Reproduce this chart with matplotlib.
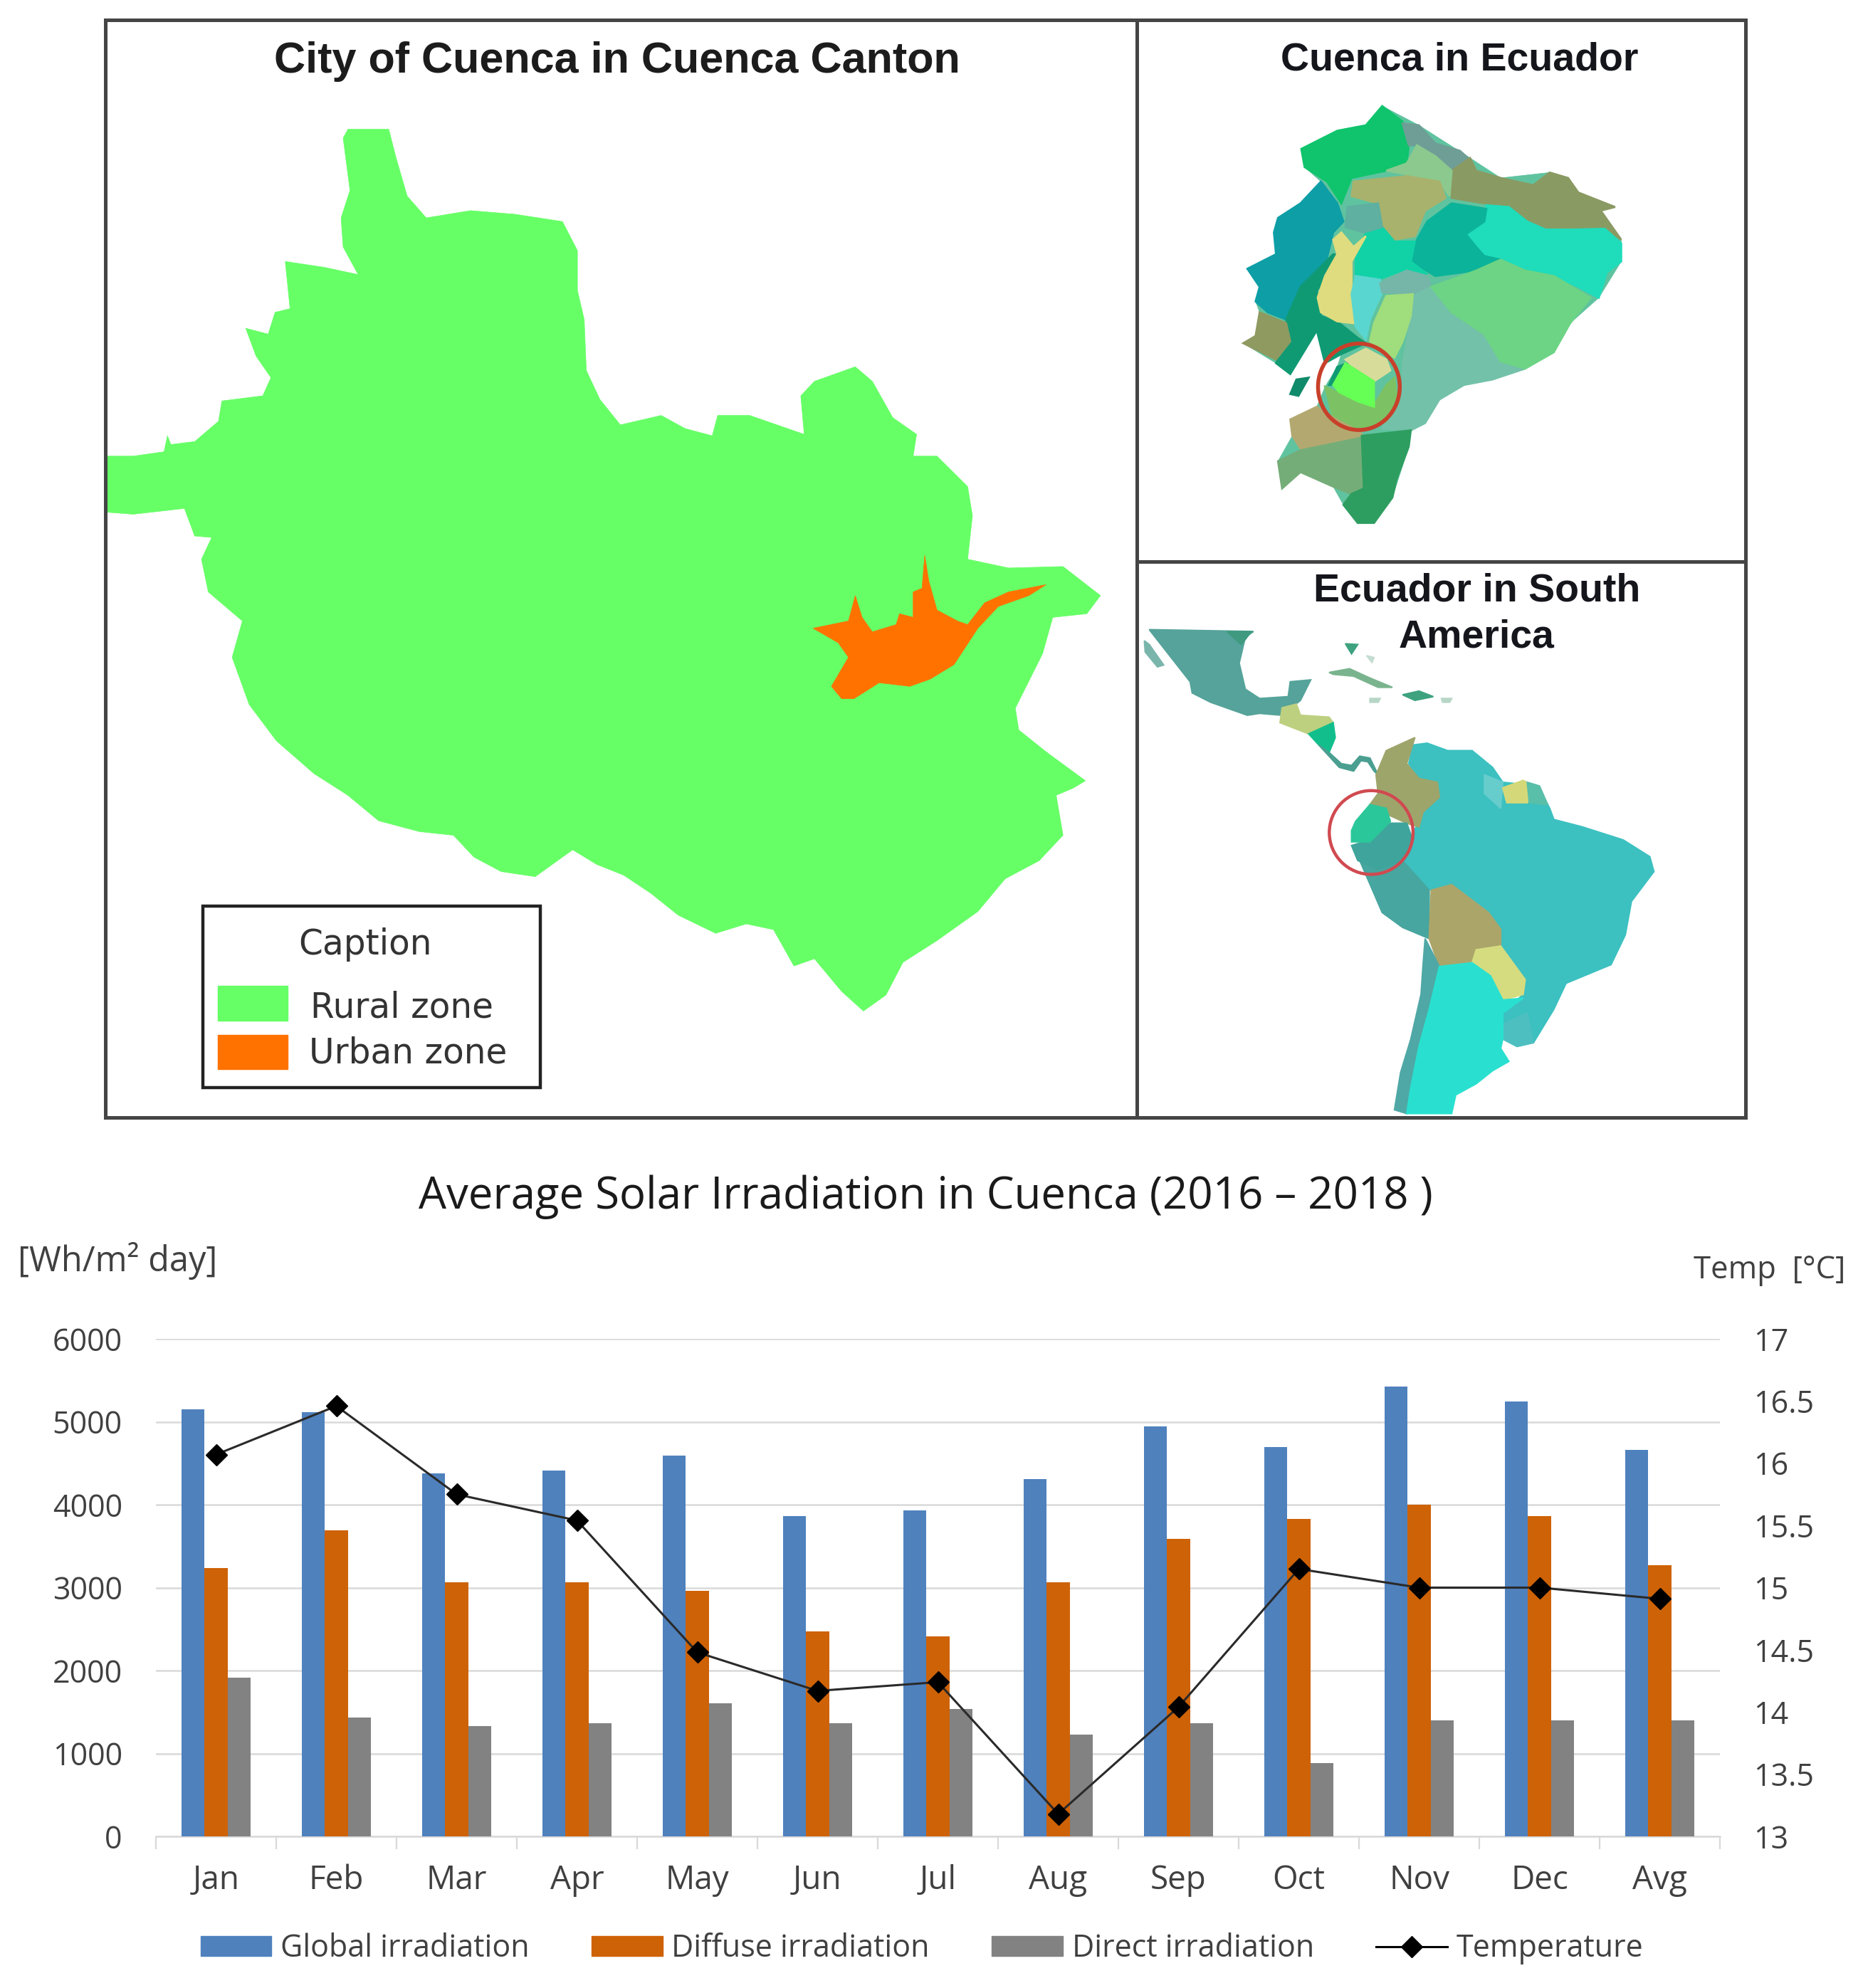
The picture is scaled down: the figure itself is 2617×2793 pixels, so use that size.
import numpy as np
import matplotlib
matplotlib.use('Agg')
import matplotlib.pyplot as plt
from matplotlib.patches import Polygon, Ellipse, Rectangle, Patch
from matplotlib.lines import Line2D

# chart data
months = ['Jan', 'Feb', 'Mar', 'Apr', 'May', 'Jun', 'Jul', 'Aug', 'Sep', 'Oct', 'Nov', 'Dec', 'Avg']
global_irr = [5146, 5113, 4381, 4413, 4593, 3861, 3931, 4310, 4940, 4696, 5422, 5248, 4664]
diffuse_irr = [3238, 3694, 3064, 3064, 2961, 2473, 2409, 3064, 3585, 3829, 3996, 3861, 3270]
direct_irr = [1914, 1433, 1330, 1362, 1606, 1362, 1535, 1227, 1362, 880, 1400, 1400, 1400]
temperature = [16.07, 16.46, 15.75, 15.54, 14.48, 14.17, 14.24, 13.18, 14.04, 15.15, 15.0, 15.0, 14.91]
irr_ticks = [0, 1000, 2000, 3000, 4000, 5000, 6000]
temp_ticks = [13, 13.5, 14, 14.5, 15, 15.5, 16, 16.5, 17]
temp_labels = ['13', '13.5', '14', '14.5', '15', '15.5', '16', '16.5', '17']

# canton map outlines
rural = [(18,628),(60,628),(105,622),(110,600),(115,612),(150,608),(185,580),(190,552),(250,545),(262,520),
         (240,490),(225,452),(258,460),(268,430),(290,425),(283,360),(340,368),(390,378),(368,340),(365,300),
         (378,262),(368,190),(375,178),(435,178),(445,215),(462,270),(490,300),(555,290),(620,295),(690,305),
         (712,345),(712,400),(722,440),(725,510),(745,550),(775,585),(835,572),(870,590),(910,600),(918,572),
         (965,572),(1045,598),(1040,545),(1060,525),(1120,505),(1145,525),(1175,575),(1210,598),(1205,628),
         (1240,628),(1285,670),(1292,710),(1285,770),(1345,782),(1425,780),(1480,820),(1460,845),(1410,850),
         (1395,900),(1355,975),(1360,1005),(1400,1035),(1458,1075),(1440,1085),(1415,1095),(1425,1150),
         (1390,1185),(1340,1210),(1300,1255),(1240,1295),(1190,1325),(1165,1370),(1132,1392),(1100,1365),
         (1060,1320),(1030,1330),(1000,1280),(960,1272),(915,1285),(860,1260),(820,1230),(780,1205),(740,1190),
         (705,1170),(650,1207),(600,1200),(560,1180),(530,1150),(480,1145),(420,1130),(375,1095),(325,1065),
         (270,1020),(230,970),(205,905),(220,855),(170,815),(160,770),(175,740),(150,738),(135,700),(60,708),(18,705)]
urban = [(1058,865),(1110,855),(1120,820),(1130,850),(1145,870),(1180,860),(1185,845),(1205,850),(1205,815),
         (1218,810),(1222,765),(1228,800),(1240,840),(1270,855),(1285,860),(1310,830),(1345,815),(1400,805),
         (1375,820),(1330,835),(1300,865),(1265,915),(1230,935),(1200,945),(1155,940),(1118,962),(1100,962),
         (1085,945),(1110,905),(1095,885)]

# ecuador provinces
ecuador_outline = [(630,292),(720,345),(845,435),(920,490),(1040,475),(1110,530),(1215,660),(1215,720),(1160,820),(1090,890),
                   (1050,970),(980,1015),(830,1060),(770,1100),(735,1165),(700,1185),(695,1230),(655,1370),(610,1440),
                   (570,1440),(535,1390),(510,1340),(430,1300),(385,1345),(375,1270),(410,1200),(405,1155),(470,1120),
                   (490,1065),(520,1010),(530,975),(490,1000),(470,910),(405,1030),(370,1000),(290,945),(320,925),
                   (330,860),(320,830),(330,790),(300,740),(370,700),(365,640),(375,600),(430,560),(480,500),(440,460),
                   (432,410),(520,360),(590,345)]
esmeraldas = [(630,292),(680,335),(695,400),(690,450),(640,470),(555,490),(530,560),(495,500),(440,460),(432,410),(520,360),(590,345)]
carchi = [(680,340),(720,345),(760,395),(820,415),(845,440),(800,470),(760,430),(715,400),(695,400)]
sucumbios = [(800,470),(845,435),(860,470),(920,490),(1000,510),(1040,475),(1085,490),(1110,530),(1200,570),(1165,580),
             (1215,660),(1175,630),(1100,630),(1030,630),(985,605),(940,570),(880,560),(800,545)]
imbabura = [(715,400),(760,430),(800,470),(795,540),(770,500),(690,480),(640,470),(690,450)]
pichincha = [(560,500),(690,485),(770,500),(785,545),(735,580),(710,650),(660,660),(630,620),(620,560),(555,540)]
napo = [(800,560),(885,575),(880,610),(835,645),(860,680),(880,705),(920,715),(860,745),(760,760),(700,720),(710,670),(740,610)]
orellana = [(885,565),(940,570),(985,610),(1030,632),(1100,632),(1175,630),(1215,670),(1215,720),(1180,750),(1160,820),
            (1110,790),(1050,760),(980,740),(920,715),(880,700),(860,680),(835,645),(880,610)]
cotopaxi = [(590,640),(630,625),(660,665),(710,665),(700,720),(740,755),(690,740),(620,770),(565,755),(565,710)]
santo_domingo = [(545,570),(620,560),(630,625),(585,640),(540,625)]
manabi = [(480,500),(520,560),(535,610),(510,640),(495,710),(430,790),(395,880),(350,860),(320,830),(330,790),(300,740),
          (370,700),(365,640),(375,600),(430,560)]
guayas = [(510,700),(530,705),(470,800),(480,870),(520,885),(570,930),(590,945),(530,975),(490,1000),(470,910),(405,1030),
          (370,1000),(400,930),(395,880),(430,790)]
santa_elena = [(330,860),(395,890),(405,940),(370,990),(290,945),(320,925)]
los_rios = [(530,640),(560,680),(590,650),(555,720),(555,800),(560,890),(520,885),(480,860),(472,820),(490,760),(520,700),(510,660)]
bolivar = [(565,760),(625,770),(630,805),(600,880),(590,935),(565,900),(555,810)]
tungurahua = [(625,780),(690,745),(740,760),(750,790),(700,810),(630,805)]
chimborazo = [(640,815),(705,810),(700,870),(680,940),(660,985),(600,940),(610,890)]
pastaza = [(750,790),(860,745),(920,715),(980,745),(1050,760),(1140,820),(1090,890),(1050,970),(980,1015),(920,995),(880,920),(800,860)]
morona = [(705,815),(750,790),(800,860),(880,920),(920,995),(980,1015),(900,1045),(830,1060),(770,1100),(735,1165),(700,1185),
          (630,1180),(680,1060),(680,1000),(690,940)]
azuay_low = [(490,1065),(530,1085),(610,1115),(640,1060),(660,1040),(665,1090),(640,1160),(570,1180),(510,1150)]
azuay_dark = [(500,1060),(520,1010),(545,1000),(530,1060)]
canar = [(540,990),(590,960),(640,990),(650,1020),(610,1050),(570,1020)]
cuenca_canton = [(510,1060),(540,1000),(610,1050),(610,1120),(570,1105),(525,1080)]
puna = [(405,1085),(420,1045),(450,1040),(425,1090)]
el_oro = [(405,1155),(470,1120),(510,1150),(560,1180),(580,1195),(530,1235),(430,1235),(410,1200)]
loja = [(375,1270),(430,1240),(580,1205),(585,1345),(555,1360),(510,1340),(430,1300),(385,1345)]
zamora = [(580,1200),(700,1185),(695,1230),(665,1320),(655,1370),(610,1440),(570,1440),(535,1390),(555,1360),(585,1345)]

# latin america countries
mexico = [(60,200),(315,205),(295,220),(280,290),(295,360),(330,385),(400,380),(405,340),(455,335),(430,390),(385,430),
          (330,425),(300,430),(210,395),(165,370),(160,340)]
mexico_north = [(250,205),(310,205),(285,240)]
baja = [(48,230),(60,240),(95,295),(80,300),(50,260)]
central_am = [(385,410),(420,400),(430,430),(500,435),(510,450),(450,480),(380,450)]
nicaragua = [(450,480),(510,450),(515,490),(500,530),(475,510)]
panama = [(475,510),(500,530),(530,560),(555,565),(575,540),(600,545),(620,590),(610,580),(595,555),(578,552),(560,580),(525,570)]
cuba = [(500,315),(550,305),(600,330),(655,355),(620,355),(560,325),(510,320)]
hispaniola = [(680,375),(720,365),(755,380),(710,390)]
jamaica = [(600,385),(625,385),(620,395),(600,395)]
puerto_rico = [(775,385),(800,385),(795,395),(778,395)]
bahamas_a = [(540,238),(570,240),(555,265)]
bahamas_b = [(592,270),(610,275),(605,288)]
colombia = [(615,590),(640,525),(710,490),(690,560),(720,600),(765,610),(770,650),(730,690),(720,730),(690,720),(650,700),(600,670),(620,640)]
brazil = [(695,560),(705,510),(740,505),(790,525),(850,525),(900,570),(925,610),(1010,620),(1040,680),(1050,710),(1120,730),
          (1220,765),(1285,810),(1295,850),(1240,930),(1225,1020),(1190,1100),(1080,1150),(1050,1220),(1000,1310),(925,1300),
          (925,1230),(975,1180),(980,1140),(920,1050),(920,1000),(890,960),(800,885),(750,900),(665,840),(700,760),(730,690),
          (770,650),(765,610),(720,600)]
guyana = [(880,590),(925,610),(920,680),(880,640)]
suriname = [(925,625),(975,605),(1010,625),(985,665),(935,665)]
guiana = [(985,610),(1015,620),(1035,670),(990,665)]
uruguay = [(925,1260),(985,1230),(1000,1310),(960,1320),(925,1300)]
ecuador_n = [(565,715),(600,670),(640,680),(650,715),(600,770),(555,770),(555,740)]
ecuador_s = [(555,780),(600,765),(650,720),(690,720),(705,765),(680,820),(620,845),(570,820)]
peru = [(575,820),(620,840),(675,815),(745,900),(745,1030),(680,1000),(630,960)]
bolivia = [(750,900),(800,885),(890,960),(920,1005),(920,1050),(860,1060),(850,1095),(770,1105),(745,1030)]
paraguay = [(860,1060),(920,1050),(980,1140),(975,1180),(925,1195),(895,1130),(850,1095)]
chile = [(735,1030),(770,1105),(745,1220),(720,1320),(700,1430),(690,1500),(660,1490),(675,1390),(700,1300),(725,1180),(730,1100)]
argentina = [(770,1105),(850,1095),(895,1130),(925,1195),(975,1190),(925,1230),(925,1300),(920,1325),(940,1360),(900,1385),
             (860,1420),(810,1450),(800,1500),(690,1500),(700,1430),(720,1320),(745,1220)]

W, H = 2617, 2793
fig = plt.figure(figsize=(W / 100, H / 100), dpi=100, facecolor='white')


def px_axes(x, y, w, h):
    # axes placed by reference pixels, inner scale 0..1568 both ways
    a = fig.add_axes([x / W, 1 - (y + h) / H, w / W, h / H])
    a.set_xlim(0, 1568)
    a.set_ylim(1568, 0)
    a.axis('off')
    a.patch.set_alpha(0)
    return a


def fill(a, shapes, lw=0.5):
    for outline, colour in shapes:
        a.add_patch(Polygon(outline, closed=True, facecolor=colour, edgecolor=colour, linewidth=lw))


sans = 'Liberation Sans'

# left map
ax_canton = px_axes(130, 0, 1500, 1600)
fill(ax_canton, [(rural, '#66ff66'), (urban, '#ff7200')])
ax_canton.text(770, 85, 'City of Cuenca in Cuenca Canton', family=sans, weight='bold', fontsize=44,
               color='#1c1c1c', ha='center', va='center')
ax_canton.add_patch(Rectangle((162, 1248), 495, 249, facecolor='white', edgecolor='#222222', linewidth=3.2))
ax_canton.add_patch(Rectangle((184, 1357), 102, 48, color='#66ff66'))
ax_canton.add_patch(Rectangle((184, 1425), 102, 47, color='#ff7200'))
ax_canton.text(400, 1300, 'Caption', family='DejaVu Sans', fontsize=35, color='#333333', ha='center', va='center')
ax_canton.text(320, 1387, 'Rural zone', family='DejaVu Sans', fontsize=35, color='#333333', va='center')
ax_canton.text(318, 1450, 'Urban zone', family='DejaVu Sans', fontsize=35, color='#333333', va='center')

# ecuador
ax_ec = px_axes(1580, 0, 900, 800)
fill(ax_ec, [(ecuador_outline, '#5fc39f')])
fill(ax_ec, [(esmeraldas, '#0fc46c'), (carchi, '#6f9e96'), (sucumbios, '#8a9a63'), (imbabura, '#8cc98e'),
             (pichincha, '#a8b26c'), (orellana, '#1fdcbb'), (napo, '#0bb39a'), (cotopaxi, '#10d2a6'),
             (santo_domingo, '#5fb0a0'), (manabi, '#0d9ea6'), (guayas, '#109a74'), (santa_elena, '#8f9a60'),
             (los_rios, '#dedc7e'), (bolivar, '#5ad6d0'), (tungurahua, '#75b6a8'), (morona, '#73c1a9'),
             (chimborazo, '#a0dd7c'), (pastaza, '#6cd484'), (azuay_low, '#7cc265'), (azuay_dark, '#109a74'),
             (canar, '#d8dc9a'), (cuenca_canton, '#66ff55'), (puna, '#0f8a6a'), (el_oro, '#b3a970'),
             (loja, '#75ad78'), (zamora, '#2e9e60')], lw=2)
ax_ec.add_patch(Ellipse((573, 1065), 200, 238, facecolor='none', edgecolor='#c8402a', linewidth=4))
ax_ec.text(820, 166, 'Cuenca in Ecuador', family=sans, weight='bold', fontsize=40, color='#15151c',
           ha='center', va='center')

# latin america
ax_sa = px_axes(1580, 780, 900, 820)
fill(ax_sa, [(mexico, '#55a39a'), (mexico_north, '#3f9a80'), (baja, '#7ab5ac'), (central_am, '#bdd080'),
             (nicaragua, '#12bf8c'), (panama, '#4a9f90'), (cuba, '#7ab48e'), (hispaniola, '#3ea27f'),
             (jamaica, '#b6d6c6'), (puerto_rico, '#b6d6c6'), (bahamas_a, '#3ea27f'), (bahamas_b, '#c4dcd2'),
             (brazil, '#3cc0c0'), (colombia, '#9ea56b'), (guyana, '#66cccc'), (suriname, '#d5d878'),
             (guiana, '#59bfa9'), (uruguay, '#4ebfc0'), (peru, '#47a69f'), (ecuador_s, '#3fa59c'),
             (ecuador_n, '#2ac79a'), (bolivia, '#aba56a'), (paraguay, '#d5dc80'), (chile, '#4fa8a5'),
             (argentina, '#29e0d0')], lw=1.5)
ax_sa.add_patch(Ellipse((603, 745), 205, 225, facecolor='none', edgecolor='#d04a50', linewidth=3.2))
ax_sa.text(862, 96, 'Ecuador in South', family=sans, weight='bold', fontsize=40, color='#15151c',
           ha='center', va='center')
ax_sa.text(860, 221, 'America', family=sans, weight='bold', fontsize=40, color='#15151c',
           ha='center', va='center')

# frame
ax_frame = fig.add_axes([0, 0, 1, 1])
ax_frame.set_xlim(0, W)
ax_frame.set_ylim(H, 0)
ax_frame.axis('off')
ax_frame.patch.set_alpha(0)
ax_frame.add_patch(Rectangle((148, 28), 2304, 1542, facecolor='none', edgecolor='#454545', linewidth=3.6))
ax_frame.plot([1597, 1597], [28, 1570], color='#454545', linewidth=3.6)
ax_frame.plot([1597, 2452], [789, 789], color='#454545', linewidth=3.6)

# chart
ck = 'Open Sans'
tick_col = '#404040'
grid_col = '#d9d9d9'
ax = fig.add_axes([219 / W, 1 - 2580 / H, (2416 - 219) / W, (2580 - 1881) / H])
x = np.arange(len(months))
w = 0.19
ax.bar(x - w, global_irr, w, color='#4f81bd', zorder=3)
ax.bar(x, diffuse_irr, w, color='#ce6207', zorder=3)
ax.bar(x + w, direct_irr, w, color='#828282', zorder=3)
ax.set_xlim(-0.5, len(months) - 0.5)
ax.set_ylim(0, 6000)
ax.set_yticks(irr_ticks)
ax.set_xticks(np.arange(len(months) + 1) - 0.5)
ax.set_xticklabels([])
ax.set_xticks(x, months, minor=True)
ax.tick_params(axis='x', which='major', length=13, width=1.6, color=grid_col)
ax.tick_params(axis='x', which='minor', length=0, pad=28, labelsize=33, labelcolor=tick_col)
ax.tick_params(axis='y', length=0, pad=34, labelsize=31, labelcolor=tick_col)
ax.grid(axis='y', color=grid_col, linewidth=1.8, zorder=0)
ax.set_axisbelow(True)
for s in ['top', 'left', 'right']:
    ax.spines[s].set_visible(False)
ax.spines['bottom'].set_color(grid_col)
ax.spines['bottom'].set_linewidth(1.8)
for t in ax.get_xticklabels(minor=True) + ax.get_yticklabels():
    t.set_family(ck)

ax2 = ax.twinx()
ax2.plot(x, temperature, color='#2a2a2a', linewidth=2.2, marker='D', markersize=15, markerfacecolor='black',
         markeredgecolor='black', zorder=5)
ax2.set_ylim(13, 17)
ax2.set_yticks(temp_ticks)
ax2.set_yticklabels(temp_labels, family=ck)
ax2.tick_params(axis='y', length=0, pad=34, labelsize=31, labelcolor=tick_col)
for s in ax2.spines.values():
    s.set_visible(False)

fig.text(1300 / W, 1 - 1682 / H, 'Average Solar Irradiation in Cuenca (2016 – 2018 )', family=ck, fontsize=44.5,
         color='#1a1a1a', ha='center', va='center')
fig.text(25 / W, 1 - 1771 / H, '[Wh/m² day]', family=ck, fontsize=35, color=tick_col, ha='left', va='center')
fig.text(2592 / W, 1 - 1785 / H, 'Temp  [°C]', family=ck, fontsize=31.5, color=tick_col, ha='right', va='center')

handles = [Patch(color='#4f81bd'), Patch(color='#ce6207'), Patch(color='#828282'),
           Line2D([0], [0], color='black', linewidth=2.2, marker='D', markersize=15, markerfacecolor='black')]
fig.legend(handles, ['Global irradiation', 'Diffuse irradiation', 'Direct irradiation', 'Temperature'],
           loc='center', bbox_to_anchor=(1295 / W, 1 - 2738 / H), ncol=4, frameon=False,
           handlelength=2.32, handleheight=0.63, handletextpad=0.29, columnspacing=2.03, labelcolor=tick_col,
           prop={'family': ck, 'size': 31})

fig.savefig('out.png', dpi=100)
